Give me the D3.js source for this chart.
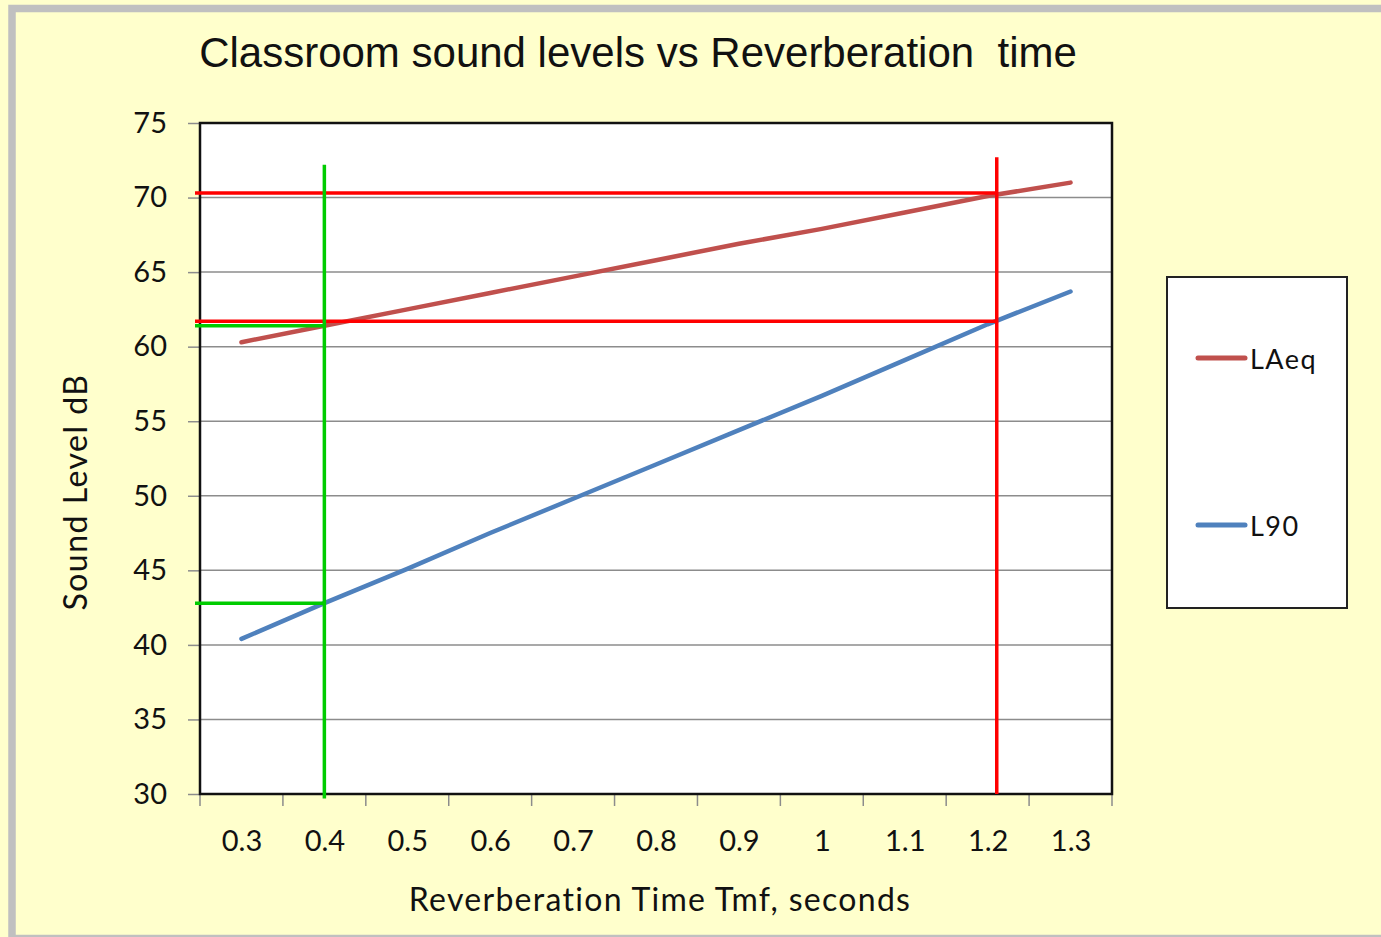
<!DOCTYPE html>
<html>
<head>
<meta charset="utf-8">
<script src="https://cdn.jsdelivr.net/npm/d3@7"></script>
<style>
  html, body { margin: 0; padding: 0; background: #ffffcc; overflow: hidden; }
  svg { display: block; }
</style>
</head>
<body>
<svg width="1381" height="937"></svg>
<script>
// reverberation time categories (seconds) and their axis labels
const categories = [0.3, 0.4, 0.5, 0.6, 0.7, 0.8, 0.9, 1.0, 1.1, 1.2, 1.3];
const tickLabels = ["0.3", "0.4", "0.5", "0.6", "0.7", "0.8", "0.9", "1", "1.1", "1.2", "1.3"];
const laeq = [60.3, 61.4, 62.5, 63.6, 64.7, 65.8, 66.9, 67.9, 69.0, 70.1, 71.0];
const l90 = [40.4, 42.8, 45.1, 47.5, 49.8, 52.1, 54.4, 56.7, 59.1, 61.5, 63.7];
const yTicks = [30, 35, 40, 45, 50, 55, 60, 65, 70, 75];

// read-off lines drawn over the chart
const hLines = [
  { level: 70.3, to: 1.211, color: "#ff0000" },
  { level: 61.7, to: 1.211, color: "#ff0000" },
  { level: 61.4, to: 0.4, color: "#00cc00" },
  { level: 42.8, to: 0.4, color: "#00cc00" }
];
const vLines = [
  { at: 1.211, top: 72.7, bottom: 30, color: "#ff0000" },
  { at: 0.4, top: 72.2, bottom: 29.7, color: "#00cc00" }
];

const series = [
  { name: "LAeq", values: laeq, color: "#c0504d" },
  { name: "L90", values: l90, color: "#4f81bd" }
];

const svg = d3.select("svg");
const plot = { left: 200, right: 1112, top: 123, bottom: 794 };
const labelFont = "Lato, 'Liberation Sans', sans-serif";

// outer frame
svg.append("rect")
  .attr("x", 12).attr("y", 8.5)
  .attr("width", 1400).attr("height", 930)
  .attr("fill", "#ffffcc")
  .attr("stroke", "#c0c0c0")
  .attr("stroke-width", 7.5);

const x = d3.scaleLinear()
  .domain([0.25, 1.35])
  .range([plot.left, plot.right]);
const y = d3.scaleLinear()
  .domain([30, 75])
  .range([plot.bottom, plot.top]);

// plot background
svg.append("rect")
  .attr("x", plot.left).attr("y", plot.top)
  .attr("width", plot.right - plot.left)
  .attr("height", plot.bottom - plot.top)
  .attr("fill", "#ffffff");

// gridlines
svg.append("g")
  .selectAll("line")
  .data(yTicks.slice(1, -1))
  .join("line")
  .attr("x1", plot.left).attr("x2", plot.right)
  .attr("y1", d => y(d)).attr("y2", d => y(d))
  .attr("stroke", "#8c8c8c")
  .attr("stroke-width", 1.5);

// y axis
const yAxis = svg.append("g")
  .attr("transform", `translate(${plot.left},0)`)
  .call(d3.axisLeft(y).tickValues(yTicks).tickSize(12).tickPadding(21));
yAxis.select(".domain").remove();
yAxis.selectAll(".tick line").attr("stroke", "#8c8c8c").attr("stroke-width", 1.5);
yAxis.selectAll(".tick text")
  .attr("font-family", labelFont)
  .attr("font-size", 29)
  .attr("fill", "#111");

// x axis: ticks sit between categories
const bounds = d3.range(categories.length + 1).map(i => 0.25 + i * 0.1);
svg.append("g")
  .selectAll("line")
  .data(bounds)
  .join("line")
  .attr("x1", d => x(d)).attr("x2", d => x(d))
  .attr("y1", plot.bottom).attr("y2", plot.bottom + 12)
  .attr("stroke", "#8c8c8c")
  .attr("stroke-width", 1.5);

const xAxis = svg.append("g")
  .attr("transform", `translate(0,${plot.bottom})`)
  .call(d3.axisBottom(x).tickValues(categories).tickSize(0).tickPadding(36)
    .tickFormat((d, i) => tickLabels[i]));
xAxis.select(".domain").remove();
xAxis.selectAll(".tick text")
  .attr("font-family", labelFont)
  .attr("font-size", 29)
  .attr("fill", "#111");

// series lines
const line = d3.line()
  .x((d, i) => x(categories[i]))
  .y(d => y(d));

svg.append("g")
  .selectAll("path")
  .data(series)
  .join("path")
  .attr("d", d => line(d.values))
  .attr("fill", "none")
  .attr("stroke", d => d.color)
  .attr("stroke-width", 4.5)
  .attr("stroke-linecap", "round");

// plot border
svg.append("rect")
  .attr("x", plot.left).attr("y", plot.top)
  .attr("width", plot.right - plot.left)
  .attr("height", plot.bottom - plot.top)
  .attr("fill", "none")
  .attr("stroke", "#111")
  .attr("stroke-width", 2.5);

// read-off lines
svg.append("g")
  .selectAll("line")
  .data(hLines)
  .join("line")
  .attr("x1", plot.left - 5).attr("x2", d => x(d.to))
  .attr("y1", d => y(d.level)).attr("y2", d => y(d.level))
  .attr("stroke", d => d.color)
  .attr("stroke-width", 3.5);

svg.append("g")
  .selectAll("line")
  .data(vLines)
  .join("line")
  .attr("x1", d => x(d.at)).attr("x2", d => x(d.at))
  .attr("y1", d => y(d.top)).attr("y2", d => y(d.bottom))
  .attr("stroke", d => d.color)
  .attr("stroke-width", 3.5);

// title
svg.append("text")
  .attr("x", 638).attr("y", 67)
  .attr("text-anchor", "middle")
  .attr("font-family", "'Liberation Sans', Arial, sans-serif")
  .attr("font-size", 42)
  .attr("fill", "#111")
  .attr("xml:space", "preserve")
  .text("Classroom sound levels vs Reverberation  time");

// axis titles
svg.append("text")
  .attr("x", 660).attr("y", 911)
  .attr("text-anchor", "middle")
  .attr("font-family", labelFont)
  .attr("font-size", 32)
  .attr("letter-spacing", 1.3)
  .attr("fill", "#111")
  .text("Reverberation Time Tmf, seconds");

svg.append("text")
  .attr("transform", "translate(87,492) rotate(-90)")
  .attr("text-anchor", "middle")
  .attr("font-family", labelFont)
  .attr("font-size", 32)
  .attr("letter-spacing", 1.5)
  .attr("fill", "#111")
  .text("Sound Level dB");

// legend
const legend = svg.append("g");
legend.append("rect")
  .attr("x", 1167).attr("y", 277)
  .attr("width", 180).attr("height", 331)
  .attr("fill", "#ffffff")
  .attr("stroke", "#222")
  .attr("stroke-width", 2);

const items = legend.selectAll("g.item")
  .data(series)
  .join("g")
  .attr("class", "item")
  .attr("transform", (d, i) => `translate(0,${358 + i * 167})`);
items.append("line")
  .attr("x1", 1198).attr("x2", 1245)
  .attr("stroke", d => d.color)
  .attr("stroke-width", 5)
  .attr("stroke-linecap", "round");
items.append("text")
  .attr("x", 1250).attr("y", 11)
  .attr("font-family", labelFont)
  .attr("font-size", 27)
  .attr("letter-spacing", 1.5)
  .attr("fill", "#111")
  .text(d => d.name);
</script>
</body>
</html>
